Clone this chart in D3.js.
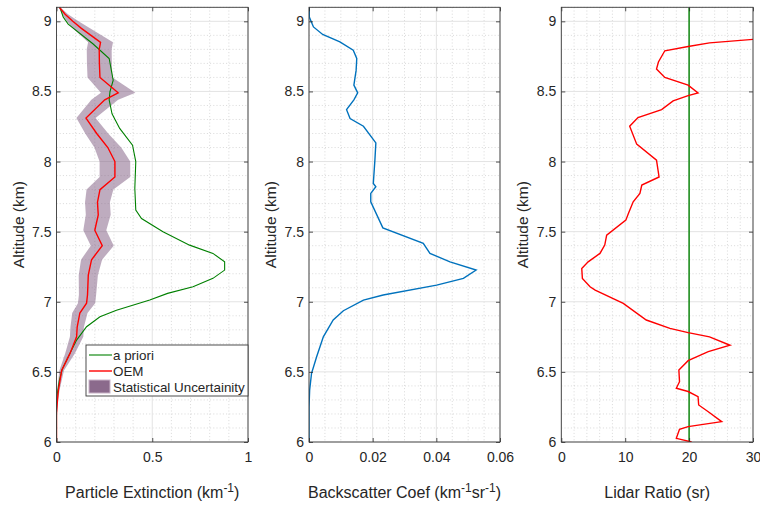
<!DOCTYPE html>
<html><head><meta charset="utf-8">
<script src="https://cdn.jsdelivr.net/npm/d3@7"></script>
<style>
body{margin:0;background:#fff}
svg{display:block}
text{font-family:"Liberation Sans",Arial,Helvetica,sans-serif;fill:#262626}
</style>
</head><body>
<svg id="c" width="760" height="508"></svg>
<script>
// ---------------- data ----------------
const altTicks = [6, 6.5, 7, 7.5, 8, 8.5, 9];
const extTicks = [0, 0.5, 1];
const bscTicks = [0, 0.02, 0.04, 0.06];
const lrTicks = [0, 10, 20, 30];

// Panel 1 : OEM retrieval of particle extinction (km^-1) with statistical uncertainty
const oemAlt = [9.1, 9.05, 9.0, 8.95, 8.9, 8.85, 8.8, 8.7, 8.6, 8.49, 8.44, 8.31, 8.2, 8.1, 8.0, 7.89, 7.8, 7.71, 7.62, 7.51, 7.4, 7.3, 7.19, 7.05, 6.99, 6.92, 6.82, 6.75, 6.63, 6.51, 6.37, 6.3, 6.2, 6.0];
const oemExt = [0.015, 0.045, 0.085, 0.13, 0.18, 0.23, 0.223, 0.224, 0.227, 0.322, 0.252, 0.154, 0.21, 0.268, 0.305, 0.305, 0.227, 0.214, 0.218, 0.2, 0.239, 0.183, 0.166, 0.162, 0.157, 0.122, 0.108, 0.105, 0.07, 0.027, 0.01, 0.005, 0.0, 0.0];
const oemSigma = [0.005, 0.015, 0.03, 0.045, 0.055, 0.065, 0.065, 0.065, 0.065, 0.09, 0.07, 0.05, 0.06, 0.07, 0.08, 0.08, 0.07, 0.065, 0.065, 0.06, 0.06, 0.055, 0.05, 0.045, 0.045, 0.04, 0.035, 0.035, 0.025, 0.012, 0.006, 0.004, 0.002, 0.0];

// Panel 1 : a priori extinction
const aprAlt = [9.1, 9.03, 8.98, 8.84, 8.735, 8.58, 8.497, 8.44, 8.34, 8.236, 8.117, 8.0, 7.808, 7.654, 7.594, 7.499, 7.404, 7.345, 7.285, 7.226, 7.167, 7.107, 7.06, 7.012, 6.94, 6.893, 6.822, 6.727, 6.632, 6.52, 6.44, 6.35, 6.3, 6.0];
const aprExt = [0.018, 0.035, 0.061, 0.19, 0.275, 0.296, 0.279, 0.275, 0.29, 0.33, 0.397, 0.414, 0.409, 0.414, 0.444, 0.556, 0.695, 0.817, 0.878, 0.878, 0.817, 0.713, 0.58, 0.487, 0.313, 0.227, 0.157, 0.105, 0.07, 0.03, 0.015, 0.005, 0.0, 0.0];

// Panel 2 : backscatter coefficient (km^-1 sr^-1)
const bscAlt = [9.1, 9.03, 8.96, 8.906, 8.853, 8.794, 8.735, 8.65, 8.545, 8.49, 8.44, 8.37, 8.307, 8.252, 8.133, 8.01, 7.844, 7.82, 7.773, 7.713, 7.527, 7.416, 7.345, 7.285, 7.226, 7.167, 7.119, 7.048, 7.012, 6.936, 6.87, 6.75, 6.608, 6.49, 6.37, 6.25, 6.0];
const bscVal = [0.0001, 0.0001, 0.0014, 0.0043, 0.0097, 0.0139, 0.015, 0.0148, 0.0141, 0.0153, 0.0141, 0.0118, 0.0129, 0.0171, 0.021, 0.0207, 0.0202, 0.021, 0.0194, 0.0194, 0.0232, 0.0359, 0.038, 0.0443, 0.0525, 0.0485, 0.0401, 0.0233, 0.0171, 0.0108, 0.0076, 0.0045, 0.0024, 0.0008, 0.0002, 0.0, 0.0];

// Panel 3 : lidar ratio (sr)
const lrAlt = [8.875, 8.846, 8.82, 8.79, 8.71, 8.66, 8.6, 8.545, 8.49, 8.47, 8.433, 8.37, 8.314, 8.252, 8.124, 8.01, 7.89, 7.832, 7.773, 7.713, 7.63, 7.582, 7.475, 7.404, 7.345, 7.285, 7.238, 7.167, 7.107, 7.083, 6.989, 6.87, 6.81, 6.78, 6.75, 6.69, 6.644, 6.58, 6.513, 6.43, 6.383, 6.36, 6.323, 6.264, 6.216, 6.145, 6.11, 6.09, 6.026, 6.0];
const lrVal = [31.0, 23.2, 19.85, 16.2, 15.2, 14.9, 16.2, 19.85, 21.4, 19.85, 17.5, 15.7, 12.0, 10.7, 11.8, 14.9, 15.3, 12.6, 12.3, 11.25, 10.5, 10.1, 7.1, 6.8, 6.05, 4.2, 3.2, 3.3, 4.5, 5.3, 9.7, 13.3, 17.0, 19.85, 23.2, 26.4, 23.0, 19.85, 18.4, 18.5, 18.0, 19.85, 21.4, 21.5, 23.0, 25.1, 19.85, 18.5, 18.0, 20.4];
const lrApriori = 20;

// ---------------- drawing ----------------
const svg = d3.select("#c");
const yTop = 7.3, yBot = 442;
const y = d3.scaleLinear().domain([6, 9.1]).range([yBot, yTop]);

const panels = [
  {x0: 56.5, x1: 248, dom: [0, 1], ticks: extTicks, minor: 10, label: ["Particle Extinction (km", "-1", ")"]},
  {x0: 309, x1: 500, dom: [0, 0.06], ticks: bscTicks, minor: 12, label: ["Backscatter Coef (km", "-1", "sr", "-1", ")"]},
  {x0: 561.3, x1: 753, dom: [0, 30], ticks: lrTicks, minor: 15, label: ["Lidar Ratio (sr)"]}
];

panels.forEach((p, i) => {
  const x = d3.scaleLinear().domain(p.dom).range([p.x0, p.x1]);
  p.x = x;
  const g = svg.append("g");
  p.g = g;
  const cp = "clip" + i;
  svg.append("clipPath").attr("id", cp).append("rect")
    .attr("x", p.x0).attr("y", yTop).attr("width", p.x1 - p.x0).attr("height", yBot - yTop);
  p.clip = `url(#${cp})`;
  // minor grid
  const grid = g.append("g");
  x.ticks(p.minor).forEach(v => {
    if (p.ticks.some(t => Math.abs(t - v) < 1e-9)) return;
    grid.append("line").attr("x1", x(v)).attr("x2", x(v)).attr("y1", yTop).attr("y2", yBot)
      .attr("stroke", "#c8c8c8").attr("stroke-width", 0.7).attr("stroke-dasharray", "1,2.2");
  });
  y.ticks(31).forEach(v => {
    if (altTicks.some(t => Math.abs(t - v) < 1e-9)) return;
    grid.append("line").attr("y1", y(v)).attr("y2", y(v)).attr("x1", p.x0).attr("x2", p.x1)
      .attr("stroke", "#c8c8c8").attr("stroke-width", 0.7).attr("stroke-dasharray", "1,2.2");
  });
  // major grid
  p.ticks.forEach(v => {
    grid.append("line").attr("x1", x(v)).attr("x2", x(v)).attr("y1", yTop).attr("y2", yBot)
      .attr("stroke", "#e3e3e3").attr("stroke-width", 1);
  });
  altTicks.forEach(v => {
    grid.append("line").attr("y1", y(v)).attr("y2", y(v)).attr("x1", p.x0).attr("x2", p.x1)
      .attr("stroke", "#e3e3e3").attr("stroke-width", 1);
  });
});

function line(xs, altArr, valArr) {
  return d3.line().x((d, i) => xs(valArr[i])).y((d, i) => y(altArr[i]))(altArr);
}

// Panel 1
{
  const p = panels[0];
  const dg = p.g.append("g").attr("clip-path", p.clip);
  const area = d3.area()
    .y((d, i) => y(oemAlt[i]))
    .x0((d, i) => p.x(Math.max(0, oemExt[i] - oemSigma[i])))
    .x1((d, i) => p.x(oemExt[i] + oemSigma[i]));
  dg.append("path").attr("d", area(oemAlt)).attr("fill", "#7e5a80").attr("fill-opacity", 0.5)
    .attr("stroke", "none");
  dg.append("path").attr("d", line(p.x, aprAlt, aprExt)).attr("fill", "none")
    .attr("stroke", "#008000").attr("stroke-width", 1.1);
  dg.append("path").attr("d", line(p.x, oemAlt, oemExt)).attr("fill", "none")
    .attr("stroke", "#ff0000").attr("stroke-width", 1.4);
}
// Panel 2
{
  const p = panels[1];
  const dg = p.g.append("g").attr("clip-path", p.clip);
  dg.append("path").attr("d", line(p.x, bscAlt, bscVal)).attr("fill", "none")
    .attr("stroke", "#0072BD").attr("stroke-width", 1.4);
}
// Panel 3
{
  const p = panels[2];
  const dg = p.g.append("g").attr("clip-path", p.clip);
  dg.append("line").attr("x1", p.x(lrApriori)).attr("x2", p.x(lrApriori))
    .attr("y1", yTop).attr("y2", yBot).attr("stroke", "#008000").attr("stroke-width", 1.4);
  dg.append("path").attr("d", line(p.x, lrAlt, lrVal)).attr("fill", "none")
    .attr("stroke", "#ff0000").attr("stroke-width", 1.4);
}

// axes, box, labels
panels.forEach(p => {
  const g = p.g;
  const fmt = d => String(d);
  const ax = g.append("g").attr("transform", `translate(0,${yBot})`)
    .call(d3.axisBottom(p.x).tickValues(p.ticks).tickFormat(fmt).tickSize(-4).tickPadding(10));
  const axT = g.append("g").attr("transform", `translate(0,${yTop})`)
    .call(d3.axisTop(p.x).tickValues(p.ticks).tickFormat("").tickSize(-4));
  const ay = g.append("g").attr("transform", `translate(${p.x0},0)`)
    .call(d3.axisLeft(y).tickValues(altTicks).tickFormat(fmt).tickSize(-4).tickPadding(5));
  const ayR = g.append("g").attr("transform", `translate(${p.x1},0)`)
    .call(d3.axisRight(y).tickValues(altTicks).tickFormat("").tickSize(-4));
  [ax, axT, ay, ayR].forEach(a => {
    a.select(".domain").remove();
    a.selectAll(".tick line").attr("stroke", "#262626").attr("stroke-width", 0.8);
    a.selectAll("text").attr("font-size", 14).attr("fill", "#262626")
      .attr("font-family", '"Liberation Sans",Arial,sans-serif');
  });
  g.append("rect").attr("x", p.x0).attr("y", yTop).attr("width", p.x1 - p.x0).attr("height", yBot - yTop)
    .attr("fill", "none").attr("stroke", "#3a3a3a").attr("stroke-width", 0.9);

  // y label
  g.append("text").attr("transform", `translate(${p.x0 - 33},${(yTop + yBot) / 2}) rotate(-90)`)
    .attr("text-anchor", "middle").attr("font-size", 15.5).text("Altitude (km)");
  // x label
  const xl = g.append("text").attr("x", (p.x0 + p.x1) / 2).attr("y", 498)
    .attr("text-anchor", "middle").attr("font-size", 16);
  p.label.forEach(part => {
    if (part === "-1") {
      xl.append("tspan").attr("dy", -6).attr("font-size", 12).text(part);
    } else {
      const ts = xl.append("tspan").text(part);
      if (xl.selectAll("tspan").size() > 1) ts.attr("dy", 6);
    }
  });
});

// legend (panel 1)
{
  const lg = svg.append("g");
  const lx = 86, ly = 345, lw = 162, lh = 51;
  lg.append("rect").attr("x", lx).attr("y", ly).attr("width", lw).attr("height", lh)
    .attr("fill", "#fff").attr("stroke", "#3a3a3a").attr("stroke-width", 0.9);
  const items = [
    {t: "a priori", type: "line", c: "#008000"},
    {t: "OEM", type: "line", c: "#ff0000"},
    {t: "Statistical Uncertainity", type: "patch", c: "#7e5a80"}
  ];
  items.forEach((it, i) => {
    const cy = ly + 10 + i * 16;
    if (it.type === "line") {
      lg.append("line").attr("x1", lx + 3).attr("x2", lx + 26).attr("y1", cy).attr("y2", cy)
        .attr("stroke", it.c).attr("stroke-width", it.c === "#ff0000" ? 1.4 : 1.1);
    } else {
      lg.append("rect").attr("x", lx + 3).attr("y", cy - 7).attr("width", 21).attr("height", 13)
        .attr("fill", it.c).attr("fill-opacity", 0.9).attr("stroke", "#c9b4c8").attr("stroke-width", 1);
    }
    lg.append("text").attr("x", lx + 27).attr("y", cy + 5).attr("font-size", 13.4).text(it.t);
  });
}
</script>
</body></html>
